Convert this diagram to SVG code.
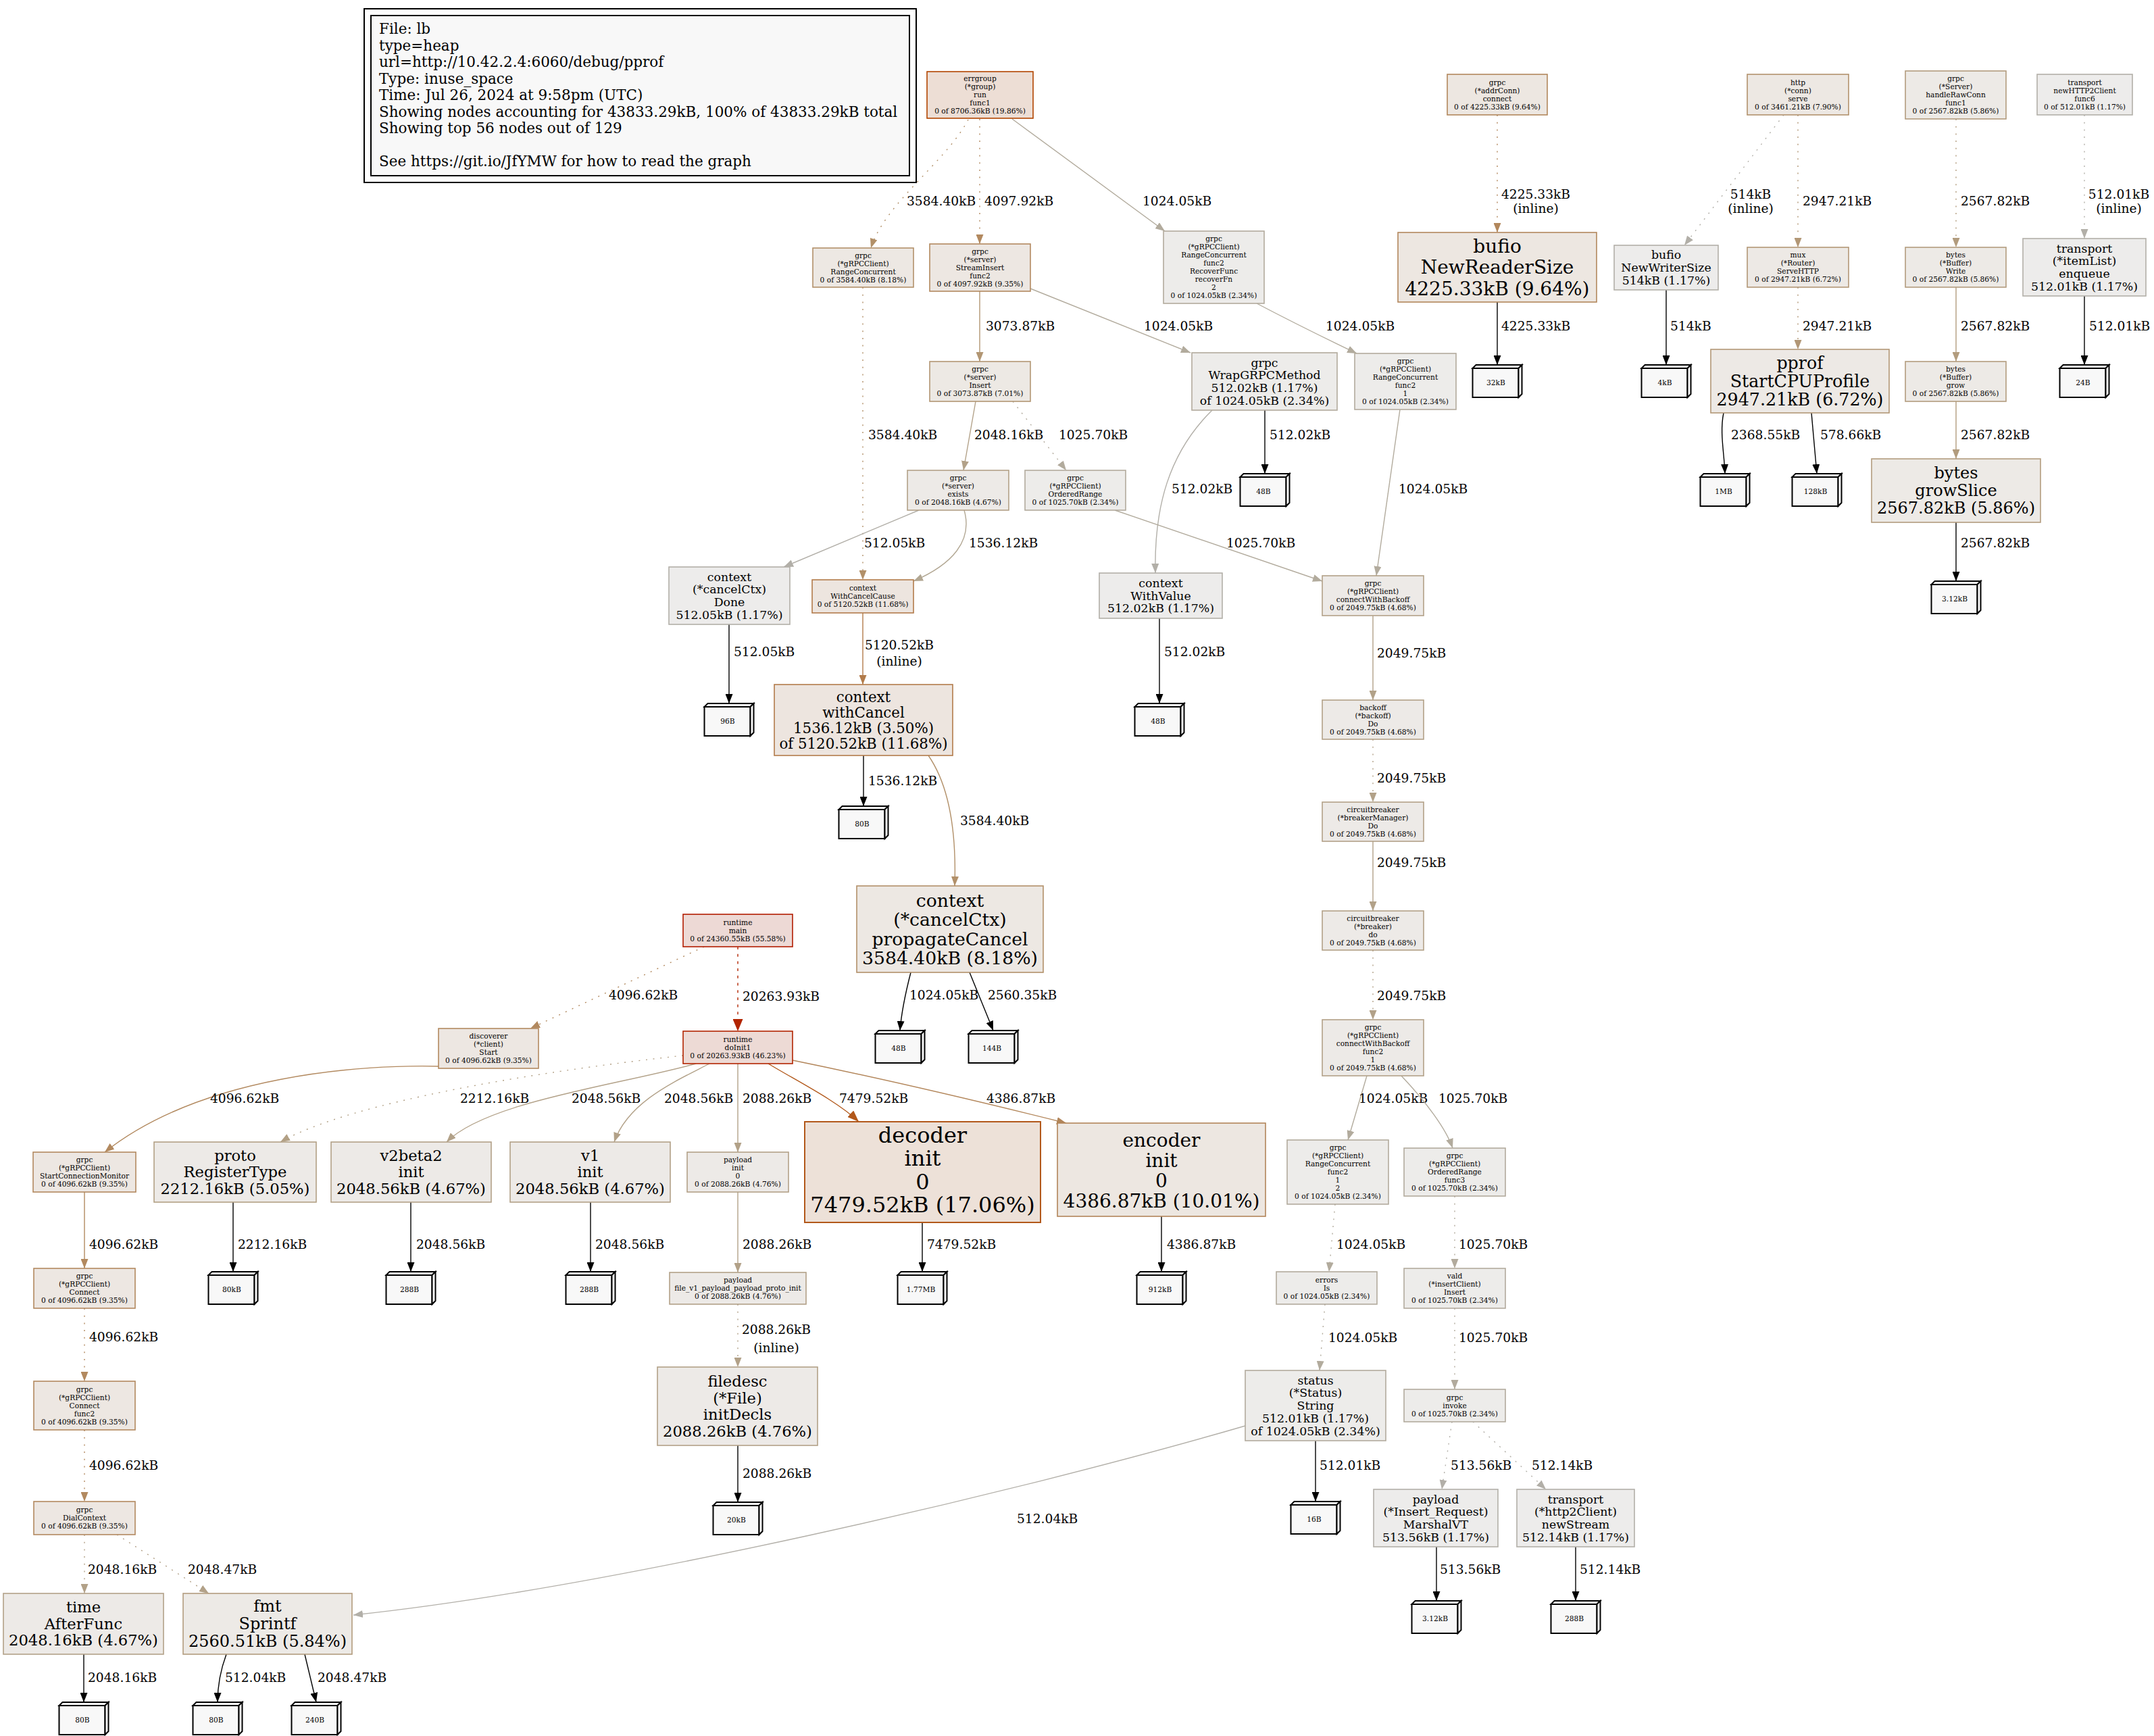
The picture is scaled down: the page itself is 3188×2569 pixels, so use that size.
<svg xmlns="http://www.w3.org/2000/svg" xmlns:xlink="http://www.w3.org/1999/xlink" width="3188" height="2569" viewBox="0 0 3188 2569">
<style>
text{font-family:"DejaVu Serif","Liberation Serif",serif;fill:#000}
.nt{text-anchor:middle}
.f8{font-size:10.67px}
.f13{font-size:17.33px}
.f16{font-size:21.33px}
.f17{font-size:22.67px}
.f18{font-size:24px}
.f19{font-size:25.33px}
.f20{font-size:26.67px}
.f21{font-size:28px}
.f24{font-size:32px}
.lbl{font-size:18.67px}
.lc{font-size:18.67px;text-anchor:middle}
.leg{font-size:21.5px}
.nd{stroke-width:1.6}
.e{fill:none;stroke-width:1.4}
.dot{stroke-dasharray:2 8.7}
.tag{fill:#f8f8f8;stroke:#000;stroke-width:2}
</style>
<defs>
<marker id="m-000" viewBox="0 0 14 11" refX="14" refY="5.5" markerWidth="14" markerHeight="11" markerUnits="userSpaceOnUse" orient="auto"><path d="M0,0L14,5.5L0,11z" fill="#000"/></marker>
<marker id="m-9069" viewBox="0 0 14 11" refX="14" refY="5.5" markerWidth="14" markerHeight="11" markerUnits="userSpaceOnUse" orient="auto"><path d="M0,0L14,5.5L0,11z" fill="#b29069"/></marker>
<marker id="m-895f" viewBox="0 0 14 11" refX="14" refY="5.5" markerWidth="14" markerHeight="11" markerUnits="userSpaceOnUse" orient="auto"><path d="M0,0L14,5.5L0,11z" fill="#b2895f"/></marker>
<marker id="m-ab9d" viewBox="0 0 14 11" refX="14" refY="5.5" markerWidth="14" markerHeight="11" markerUnits="userSpaceOnUse" orient="auto"><path d="M0,0L14,5.5L0,11z" fill="#b2ab9d"/></marker>
<marker id="m-875c" viewBox="0 0 14 11" refX="14" refY="5.5" markerWidth="14" markerHeight="11" markerUnits="userSpaceOnUse" orient="auto"><path d="M0,0L14,5.5L0,11z" fill="#b2875c"/></marker>
<marker id="m-afa8" viewBox="0 0 14 11" refX="14" refY="5.5" markerWidth="14" markerHeight="11" markerUnits="userSpaceOnUse" orient="auto"><path d="M0,0L14,5.5L0,11z" fill="#b2afa8"/></marker>
<marker id="m-9776" viewBox="0 0 14 11" refX="14" refY="5.5" markerWidth="14" markerHeight="11" markerUnits="userSpaceOnUse" orient="auto"><path d="M0,0L14,5.5L0,11z" fill="#b29776"/></marker>
<marker id="m-9c7e" viewBox="0 0 14 11" refX="14" refY="5.5" markerWidth="14" markerHeight="11" markerUnits="userSpaceOnUse" orient="auto"><path d="M0,0L14,5.5L0,11z" fill="#b29c7e"/></marker>
<marker id="m-9673" viewBox="0 0 14 11" refX="14" refY="5.5" markerWidth="14" markerHeight="11" markerUnits="userSpaceOnUse" orient="auto"><path d="M0,0L14,5.5L0,11z" fill="#b29673"/></marker>
<marker id="m-a188" viewBox="0 0 14 11" refX="14" refY="5.5" markerWidth="14" markerHeight="11" markerUnits="userSpaceOnUse" orient="auto"><path d="M0,0L14,5.5L0,11z" fill="#b2a188"/></marker>
<marker id="m-a793" viewBox="0 0 14 11" refX="14" refY="5.5" markerWidth="14" markerHeight="11" markerUnits="userSpaceOnUse" orient="auto"><path d="M0,0L14,5.5L0,11z" fill="#b2a793"/></marker>
<marker id="m-7b4a" viewBox="0 0 14 11" refX="14" refY="5.5" markerWidth="14" markerHeight="11" markerUnits="userSpaceOnUse" orient="auto"><path d="M0,0L14,5.5L0,11z" fill="#b27b4a"/></marker>
<marker id="m-8559" viewBox="0 0 14 11" refX="14" refY="5.5" markerWidth="14" markerHeight="11" markerUnits="userSpaceOnUse" orient="auto"><path d="M0,0L14,5.5L0,11z" fill="#b28559"/></marker>
<marker id="m-a085" viewBox="0 0 14 11" refX="14" refY="5.5" markerWidth="14" markerHeight="11" markerUnits="userSpaceOnUse" orient="auto"><path d="M0,0L14,5.5L0,11z" fill="#b2a085"/></marker>
<marker id="m-581a" viewBox="0 0 17 13" refX="17" refY="6.5" markerWidth="17" markerHeight="13" markerUnits="userSpaceOnUse" orient="auto"><path d="M0,0L17,6.5L0,13z" fill="#b2581a"/></marker>
<marker id="m-2400" viewBox="0 0 18 15" refX="18" refY="7.5" markerWidth="18" markerHeight="15" markerUnits="userSpaceOnUse" orient="auto"><path d="M0,0L18,7.5L0,15z" fill="#b22400"/></marker>
<g id="box3d"><rect class="tag" x="0" y="5" width="68" height="43"/><polygon class="tag" points="0,5 5,0 73,0 68,5"/><polygon class="tag" points="68,5 73,0 73,43 68,48"/></g>
</defs>
<rect width="3188" height="2569" fill="#fff"/>

<g id="legend">
<rect x="539" y="13" width="817" height="257" fill="#fff" stroke="#000" stroke-width="2"/>
<rect x="549" y="23" width="797" height="237" fill="#f8f8f8" stroke="#000" stroke-width="2"/>
<text class="leg"><tspan x="561" y="50">File: lb</tspan><tspan x="561" y="74.5">type=heap</tspan><tspan x="561" y="99">url=http://10.42.2.4:6060/debug/pprof</tspan><tspan x="561" y="123.5">Type: inuse_space</tspan><tspan x="561" y="148">Time: Jul 26, 2024 at 9:58pm (UTC)</tspan><tspan x="561" y="172.5">Showing nodes accounting for 43833.29kB, 100% of 43833.29kB total</tspan><tspan x="561" y="197">Showing top 56 nodes out of 129</tspan><tspan x="561" y="246">See https://git.io/JfYMW for how to read the graph</tspan></text>
</g>

<g id="edges">
<g id="e1"><path class="e dot" d="M1433,177 C1400,240 1310,300 1289,367" stroke="#b29069" marker-end="url(#m-9069)"/><text class="lbl" x="1342" y="303.5">3584.40kB</text></g>
<g id="e2"><path class="e dot" d="M1450,176 L1450,361" stroke="#b2895f" marker-end="url(#m-895f)"/><text class="lbl" x="1457" y="303.5">4097.92kB</text></g>
<g id="e3"><path class="e" d="M1498,176 L1724,342" stroke="#b2ab9d" marker-end="url(#m-ab9d)"/><text class="lbl" x="1691" y="303.5">1024.05kB</text></g>
<g id="e4"><path class="e dot" d="M2216,170 L2216,344" stroke="#b2875c" marker-end="url(#m-875c)"/><text class="lc" x="2273" y="293.5">4225.33kB</text><text class="lc" x="2273" y="314.5">(inline)</text></g>
<g id="e5"><path class="e dot" d="M2640,170 L2493,363" stroke="#b2afa8" marker-end="url(#m-afa8)"/><text class="lc" x="2591" y="293.5">514kB</text><text class="lc" x="2591" y="314.5">(inline)</text></g>
<g id="e6"><path class="e dot" d="M2661,170 L2661,366" stroke="#b29776" marker-end="url(#m-9776)"/><text class="lbl" x="2668" y="303.5">2947.21kB</text></g>
<g id="e7"><path class="e dot" d="M2895,176 L2895,366" stroke="#b29c7e" marker-end="url(#m-9c7e)"/><text class="lbl" x="2902" y="303.5">2567.82kB</text></g>
<g id="e8"><path class="e dot" d="M3085,170 L3085,353" stroke="#b2afa8" marker-end="url(#m-afa8)"/><text class="lc" x="3136" y="293.5">512.01kB</text><text class="lc" x="3136" y="314.5">(inline)</text></g>
<g id="e9"><path class="e" d="M1450,431 L1450,535" stroke="#b29673" marker-end="url(#m-9673)"/><text class="lbl" x="1459" y="488.5">3073.87kB</text></g>
<g id="e10"><path class="e" d="M1525,427 L1762,522" stroke="#b2ab9d" marker-end="url(#m-ab9d)"/><text class="lbl" x="1693" y="488.5">1024.05kB</text></g>
<g id="e11"><path class="e" d="M1860,449 C1900,470 1960,500 2008,523" stroke="#b2ab9d" marker-end="url(#m-ab9d)"/><text class="lbl" x="1962" y="488.5">1024.05kB</text></g>
<g id="e12"><path class="e" d="M2216,447 L2216,540" stroke="#000" marker-end="url(#m-000)"/><text class="lbl" x="2222" y="488.5">4225.33kB</text></g>
<g id="e13"><path class="e" d="M2466,429 L2466,540" stroke="#000" marker-end="url(#m-000)"/><text class="lbl" x="2472" y="488.5">514kB</text></g>
<g id="e14"><path class="e dot" d="M2661,425 L2661,517" stroke="#b29776" marker-end="url(#m-9776)"/><text class="lbl" x="2668" y="488.5">2947.21kB</text></g>
<g id="e15"><path class="e" d="M2895,425 L2895,535" stroke="#b29c7e" marker-end="url(#m-9c7e)"/><text class="lbl" x="2902" y="488.5">2567.82kB</text></g>
<g id="e16"><path class="e" d="M3085,438 L3085,540" stroke="#000" marker-end="url(#m-000)"/><text class="lbl" x="3092" y="488.5">512.01kB</text></g>
<g id="e17"><path class="e dot" d="M1277,425 L1277,858" stroke="#b29069" marker-end="url(#m-9069)"/><text class="lbl" x="1285" y="649.5">3584.40kB</text></g>
<g id="e18"><path class="e" d="M1444,594 L1426,696" stroke="#b2a188" marker-end="url(#m-a188)"/><text class="lbl" x="1442" y="650">2048.16kB</text></g>
<g id="e19"><path class="e dot" d="M1499,594 L1578,696" stroke="#b2ab9d" marker-end="url(#m-ab9d)"/><text class="lbl" x="1567" y="650">1025.70kB</text></g>
<g id="e20"><path class="e" d="M1872,607 L1872,701" stroke="#000" marker-end="url(#m-000)"/><text class="lbl" x="1879" y="650">512.02kB</text></g>
<g id="e21"><path class="e" d="M2072,606 L2037,852" stroke="#b2ab9d" marker-end="url(#m-ab9d)"/><text class="lbl" x="2070" y="729.5">1024.05kB</text></g>
<g id="e22"><path class="e" d="M2551,611 C2545,640 2552,670 2553,701" stroke="#000" marker-end="url(#m-000)"/><text class="lbl" x="2562" y="650">2368.55kB</text></g>
<g id="e23"><path class="e" d="M2681,611 L2689,701" stroke="#000" marker-end="url(#m-000)"/><text class="lbl" x="2694" y="650">578.66kB</text></g>
<g id="e24"><path class="e" d="M2895,594 L2895,679" stroke="#b29c7e" marker-end="url(#m-9c7e)"/><text class="lbl" x="2902" y="650">2567.82kB</text></g>
<g id="e25"><path class="e" d="M1794,607 C1730,670 1708,750 1710,848" stroke="#b2afa8" marker-end="url(#m-afa8)"/><text class="lbl" x="1734" y="729.5">512.02kB</text></g>
<g id="e26"><path class="e" d="M1360,755 L1160,839" stroke="#b2afa8" marker-end="url(#m-afa8)"/><text class="lbl" x="1279" y="809.5">512.05kB</text></g>
<g id="e27"><path class="e" d="M1427,755 C1440,800 1410,835 1352,860" stroke="#b2a793" marker-end="url(#m-a793)"/><text class="lbl" x="1434" y="809.5">1536.12kB</text></g>
<g id="e28"><path class="e" d="M1650,755 L1957,860" stroke="#b2ab9d" marker-end="url(#m-ab9d)"/><text class="lbl" x="1815" y="809.5">1025.70kB</text></g>
<g id="e29"><path class="e" d="M2895,773 L2895,860" stroke="#000" marker-end="url(#m-000)"/><text class="lbl" x="2902" y="809.5">2567.82kB</text></g>
<g id="e30"><path class="e" d="M1079,924 L1079,1041" stroke="#000" marker-end="url(#m-000)"/><text class="lbl" x="1086" y="970.5">512.05kB</text></g>
<g id="e31"><path class="e" d="M1277,907 L1277,1013" stroke="#b27b4a" stroke-width="1.8" marker-end="url(#m-7b4a)"/><text class="lc" x="1331" y="960.5">5120.52kB</text><text class="lc" x="1331" y="984.5">(inline)</text></g>
<g id="e32"><path class="e" d="M1716,915 L1716,1041" stroke="#000" marker-end="url(#m-000)"/><text class="lbl" x="1723" y="970.5">512.02kB</text></g>
<g id="e33"><path class="e" d="M2032,911 L2032,1036" stroke="#b2a188" marker-end="url(#m-a188)"/><text class="lbl" x="2038" y="972.5">2049.75kB</text></g>
<g id="e34"><path class="e" d="M1278,1118 L1278,1193" stroke="#000" marker-end="url(#m-000)"/><text class="lbl" x="1285" y="1161.5">1536.12kB</text></g>
<g id="e35"><path class="e" d="M1374,1118 C1410,1170 1415,1250 1413,1311" stroke="#b29069" marker-end="url(#m-9069)"/><text class="lbl" x="1421" y="1220.5">3584.40kB</text></g>
<g id="e36"><path class="e dot" d="M2032,1094 L2032,1187" stroke="#b2a188" marker-end="url(#m-a188)"/><text class="lbl" x="2038" y="1157.5">2049.75kB</text></g>
<g id="e37"><path class="e" d="M2032,1245 L2032,1348" stroke="#b2a188" marker-end="url(#m-a188)"/><text class="lbl" x="2038" y="1282.5">2049.75kB</text></g>
<g id="e38"><path class="e dot" d="M2032,1406 L2032,1509" stroke="#b2a188" marker-end="url(#m-a188)"/><text class="lbl" x="2038" y="1479.5">2049.75kB</text></g>
<g id="e39"><path class="e" d="M1348,1439 C1340,1470 1334,1500 1332,1525" stroke="#000" marker-end="url(#m-000)"/><text class="lbl" x="1346" y="1478.5">1024.05kB</text></g>
<g id="e40"><path class="e" d="M1435,1439 L1470,1525" stroke="#000" marker-end="url(#m-000)"/><text class="lbl" x="1462" y="1478.5">2560.35kB</text></g>
<g id="e41"><path class="e" d="M1092,1401 L1092,1526" stroke="#b22400" stroke-width="4.2" stroke-dasharray="4 6.7" marker-end="url(#m-2400)"/><text class="lbl" x="1099" y="1480.5">20263.93kB</text></g>
<g id="e42"><path class="e dot" d="M1042,1401 L785,1522" stroke="#b2895f" marker-end="url(#m-895f)"/><text class="lbl" x="901" y="1478.5">4096.62kB</text></g>
<g id="e43"><path class="e" d="M651,1578 C540,1575 300,1590 155,1705" stroke="#b2895f" marker-end="url(#m-895f)"/><text class="lbl" x="311" y="1631.5">4096.62kB</text></g>
<g id="e44"><path class="e dot" d="M1011,1562 C800,1585 520,1630 415,1690" stroke="#b2a085" marker-end="url(#m-a085)"/><text class="lbl" x="681" y="1631.5">2212.16kB</text></g>
<g id="e45"><path class="e" d="M1030,1574 C920,1605 720,1630 661,1690" stroke="#b2a188" marker-end="url(#m-a188)"/><text class="lbl" x="846" y="1631.5">2048.56kB</text></g>
<g id="e46"><path class="e" d="M1050,1574 C1000,1600 930,1630 909,1690" stroke="#b2a188" marker-end="url(#m-a188)"/><text class="lbl" x="983" y="1631.5">2048.56kB</text></g>
<g id="e47"><path class="e" d="M1092,1574 L1092,1705" stroke="#b2a188" marker-end="url(#m-a188)"/><text class="lbl" x="1099" y="1631.5">2088.26kB</text></g>
<g id="e48"><path class="e" d="M1137,1574 C1180,1600 1240,1630 1271,1660" stroke="#b2581a" stroke-width="2.2" marker-end="url(#m-581a)"/><text class="lbl" x="1242" y="1631.5">7479.52kB</text></g>
<g id="e49"><path class="e" d="M1173,1569 C1300,1595 1450,1630 1578,1662" stroke="#b28559" stroke-width="1.8" marker-end="url(#m-8559)"/><text class="lbl" x="1460" y="1631.5">4386.87kB</text></g>
<g id="e50"><path class="e" d="M2023,1592 L1995,1687" stroke="#b2ab9d" marker-end="url(#m-ab9d)"/><text class="lbl" x="2011" y="1631.5">1024.05kB</text></g>
<g id="e51"><path class="e" d="M2074,1592 C2110,1630 2140,1670 2150,1699" stroke="#b2ab9d" marker-end="url(#m-ab9d)"/><text class="lbl" x="2129" y="1631.5">1025.70kB</text></g>
<g id="e52"><path class="e" d="M345,1779 L345,1882" stroke="#000" marker-end="url(#m-000)"/><text class="lbl" x="352" y="1847.5">2212.16kB</text></g>
<g id="e53"><path class="e" d="M608,1779 L608,1882" stroke="#000" marker-end="url(#m-000)"/><text class="lbl" x="616" y="1847.5">2048.56kB</text></g>
<g id="e54"><path class="e" d="M874,1779 L874,1882" stroke="#000" marker-end="url(#m-000)"/><text class="lbl" x="881" y="1847.5">2048.56kB</text></g>
<g id="e55"><path class="e" d="M1092,1764 L1092,1883" stroke="#b2a188" marker-end="url(#m-a188)"/><text class="lbl" x="1099" y="1848">2088.26kB</text></g>
<g id="e56"><path class="e" d="M1365,1809 L1365,1882" stroke="#000" marker-end="url(#m-000)"/><text class="lbl" x="1372" y="1847.5">7479.52kB</text></g>
<g id="e57"><path class="e" d="M1719,1800 L1719,1882" stroke="#000" marker-end="url(#m-000)"/><text class="lbl" x="1727" y="1847.5">4386.87kB</text></g>
<g id="e58"><path class="e" d="M125,1764 L125,1877" stroke="#b2895f" marker-end="url(#m-895f)"/><text class="lbl" x="132" y="1847.5">4096.62kB</text></g>
<g id="e59"><path class="e dot" d="M1976,1782 L1967,1882" stroke="#b2ab9d" marker-end="url(#m-ab9d)"/><text class="lbl" x="1978" y="1847.5">1024.05kB</text></g>
<g id="e60"><path class="e dot" d="M2153,1770 L2153,1877" stroke="#b2ab9d" marker-end="url(#m-ab9d)"/><text class="lbl" x="2159" y="1847.5">1025.70kB</text></g>
<g id="e61"><path class="e dot" d="M125,1936 L125,2044" stroke="#b2895f" marker-end="url(#m-895f)"/><text class="lbl" x="132" y="1984.5">4096.62kB</text></g>
<g id="e62"><path class="e dot" d="M1092,1930 L1092,2023" stroke="#b2a188" marker-end="url(#m-a188)"/><text class="lc" x="1149" y="1973.5">2088.26kB</text><text class="lc" x="1149" y="2000.5">(inline)</text></g>
<g id="e63"><path class="e dot" d="M1961,1930 L1953,2028" stroke="#b2ab9d" marker-end="url(#m-ab9d)"/><text class="lbl" x="1966" y="1985.5">1024.05kB</text></g>
<g id="e64"><path class="e dot" d="M2153,1936 L2153,2056" stroke="#b2ab9d" marker-end="url(#m-ab9d)"/><text class="lbl" x="2159" y="1985.5">1025.70kB</text></g>
<g id="e65"><path class="e dot" d="M125,2116 L125,2222" stroke="#b2895f" marker-end="url(#m-895f)"/><text class="lbl" x="132" y="2174.5">4096.62kB</text></g>
<g id="e66"><path class="e" d="M1092,2139 L1092,2223" stroke="#000" marker-end="url(#m-000)"/><text class="lbl" x="1099" y="2187">2088.26kB</text></g>
<g id="e67"><path class="e" d="M1947,2132 L1947,2222" stroke="#000" marker-end="url(#m-000)"/><text class="lbl" x="1953" y="2174.5">512.01kB</text></g>
<g id="e68"><path class="e dot" d="M2149,2104 L2134,2204" stroke="#b2afa8" marker-end="url(#m-afa8)"/><text class="lbl" x="2147" y="2174.5">513.56kB</text></g>
<g id="e69"><path class="e dot" d="M2180,2104 L2288,2204" stroke="#b2afa8" marker-end="url(#m-afa8)"/><text class="lbl" x="2267" y="2174.5">512.14kB</text></g>
<g id="e70"><path class="e dot" d="M125,2271 L125,2358" stroke="#b2a188" marker-end="url(#m-a188)"/><text class="lbl" x="130" y="2328.5">2048.16kB</text></g>
<g id="e71"><path class="e dot" d="M173,2271 L309,2358" stroke="#b2a188" marker-end="url(#m-a188)"/><text class="lbl" x="278" y="2328.5">2048.47kB</text></g>
<g id="e72"><path class="e" d="M1843,2110 C1500,2210 900,2350 523,2390" stroke="#b2afa8" marker-end="url(#m-afa8)"/><text class="lbl" x="1505" y="2253.5">512.04kB</text></g>
<g id="e73"><path class="e" d="M2126,2289 L2126,2369" stroke="#000" marker-end="url(#m-000)"/><text class="lbl" x="2131" y="2328.5">513.56kB</text></g>
<g id="e74"><path class="e" d="M2332,2289 L2332,2369" stroke="#000" marker-end="url(#m-000)"/><text class="lbl" x="2338" y="2328.5">512.14kB</text></g>
<g id="e75"><path class="e" d="M124,2448 L124,2519" stroke="#000" marker-end="url(#m-000)"/><text class="lbl" x="130" y="2488.5">2048.16kB</text></g>
<g id="e76"><path class="e" d="M335,2448 C325,2475 322,2500 322,2519" stroke="#000" marker-end="url(#m-000)"/><text class="lbl" x="333" y="2488.5">512.04kB</text></g>
<g id="e77"><path class="e" d="M451,2448 L468,2519" stroke="#000" marker-end="url(#m-000)"/><text class="lbl" x="470" y="2488.5">2048.47kB</text></g>
</g>

<g id="nodes">
<g id="n1"><rect class="nd" x="1372" y="106" width="157" height="69" fill="#edded5" stroke="#b24501"/><text class="nt f8"><tspan x="1450.5" y="120.2">errgroup</tspan><tspan x="1450.5" y="132.2">(*group)</tspan><tspan x="1450.5" y="144.2">run</tspan><tspan x="1450.5" y="156.2">func1</tspan><tspan x="1450.5" y="168.2">0 of 8706.36kB (19.86%)</tspan></text></g>
<g id="n2"><rect class="nd" x="1203" y="367" width="149" height="58" fill="#ede8e3" stroke="#b29069"/><text class="nt f8"><tspan x="1277.5" y="381.7">grpc</tspan><tspan x="1277.5" y="393.7">(*gRPCClient)</tspan><tspan x="1277.5" y="405.7">RangeConcurrent</tspan><tspan x="1277.5" y="417.7">0 of 3584.40kB (8.18%)</tspan></text></g>
<g id="n3"><rect class="nd" x="1376" y="361" width="149" height="70" fill="#ede7e2" stroke="#b2895f"/><text class="nt f8"><tspan x="1450.5" y="375.7">grpc</tspan><tspan x="1450.5" y="387.7">(*server)</tspan><tspan x="1450.5" y="399.7">StreamInsert</tspan><tspan x="1450.5" y="411.7">func2</tspan><tspan x="1450.5" y="423.7">0 of 4097.92kB (9.35%)</tspan></text></g>
<g id="n4"><rect class="nd" x="1722" y="342" width="149" height="107" fill="#edecea" stroke="#b2ab9d"/><text class="nt f8"><tspan x="1796.5" y="357.2">grpc</tspan><tspan x="1796.5" y="369.2">(*gRPCClient)</tspan><tspan x="1796.5" y="381.2">RangeConcurrent</tspan><tspan x="1796.5" y="393.2">func2</tspan><tspan x="1796.5" y="405.2">RecoverFunc</tspan><tspan x="1796.5" y="417.2">recoverFn</tspan><tspan x="1796.5" y="429.2">2</tspan><tspan x="1796.5" y="441.2">0 of 1024.05kB (2.34%)</tspan></text></g>
<g id="n5"><rect class="nd" x="2142" y="110" width="148" height="60" fill="#ede7e1" stroke="#b2875c"/><text class="nt f8"><tspan x="2216" y="125.7">grpc</tspan><tspan x="2216" y="137.7">(*addrConn)</tspan><tspan x="2216" y="149.7">connect</tspan><tspan x="2216" y="161.7">0 of 4225.33kB (9.64%)</tspan></text></g>
<g id="n6"><rect class="nd" x="2586" y="110" width="150" height="60" fill="#ede8e3" stroke="#b2916c"/><text class="nt f8"><tspan x="2661" y="125.7">http</tspan><tspan x="2661" y="137.7">(*conn)</tspan><tspan x="2661" y="149.7">serve</tspan><tspan x="2661" y="161.7">0 of 3461.21kB (7.90%)</tspan></text></g>
<g id="n7"><rect class="nd" x="2820" y="105" width="149" height="71" fill="#edeae6" stroke="#b29c7e"/><text class="nt f8"><tspan x="2894.5" y="120.2">grpc</tspan><tspan x="2894.5" y="132.2">(*Server)</tspan><tspan x="2894.5" y="144.2">handleRawConn</tspan><tspan x="2894.5" y="156.2">func1</tspan><tspan x="2894.5" y="168.2">0 of 2567.82kB (5.86%)</tspan></text></g>
<g id="n8"><rect class="nd" x="3015" y="110" width="141" height="60" fill="#edeceb" stroke="#b2afa8"/><text class="nt f8"><tspan x="3085.5" y="125.7">transport</tspan><tspan x="3085.5" y="137.7">newHTTP2Client</tspan><tspan x="3085.5" y="149.7">func6</tspan><tspan x="3085.5" y="161.7">0 of 512.01kB (1.17%)</tspan></text></g>
<g id="n9"><rect class="nd" x="2069" y="344" width="294" height="103" fill="#ede7e1" stroke="#b2875c"/><text class="nt f21"><tspan x="2216" y="373.8">bufio</tspan><tspan x="2216" y="405.3">NewReaderSize</tspan><tspan x="2216" y="436.8">4225.33kB (9.64%)</tspan></text></g>
<g id="n10"><rect class="nd" x="2389" y="363" width="154" height="66" fill="#edeceb" stroke="#b2afa8"/><text class="nt f13"><tspan x="2466" y="383.4">bufio</tspan><tspan x="2466" y="402.1">NewWriterSize</tspan><tspan x="2466" y="420.8">514kB (1.17%)</tspan></text></g>
<g id="n11"><rect class="nd" x="2586" y="366" width="150" height="59" fill="#ede9e5" stroke="#b29776"/><text class="nt f8"><tspan x="2661" y="381.2">mux</tspan><tspan x="2661" y="393.2">(*Router)</tspan><tspan x="2661" y="405.2">ServeHTTP</tspan><tspan x="2661" y="417.2">0 of 2947.21kB (6.72%)</tspan></text></g>
<g id="n12"><rect class="nd" x="2820" y="366" width="149" height="59" fill="#edeae6" stroke="#b29c7e"/><text class="nt f8"><tspan x="2894.5" y="381.2">bytes</tspan><tspan x="2894.5" y="393.2">(*Buffer)</tspan><tspan x="2894.5" y="405.2">Write</tspan><tspan x="2894.5" y="417.2">0 of 2567.82kB (5.86%)</tspan></text></g>
<g id="n13"><rect class="nd" x="2994" y="353" width="182" height="85" fill="#edeceb" stroke="#b2afa8"/><text class="nt f13"><tspan x="3085" y="373.6">transport</tspan><tspan x="3085" y="392.3">(*itemList)</tspan><tspan x="3085" y="411">enqueue</tspan><tspan x="3085" y="429.7">512.01kB (1.17%)</tspan></text></g>
<g id="n14"><rect class="nd" x="1376" y="535" width="149" height="59" fill="#ede9e4" stroke="#b29673"/><text class="nt f8"><tspan x="1450.5" y="550.2">grpc</tspan><tspan x="1450.5" y="562.2">(*server)</tspan><tspan x="1450.5" y="574.2">Insert</tspan><tspan x="1450.5" y="586.2">0 of 3073.87kB (7.01%)</tspan></text></g>
<g id="n15"><rect class="nd" x="1764" y="522" width="215" height="85" fill="#edecea" stroke="#b2ab9d"/><text class="nt f13"><tspan x="1871.5" y="542.6">grpc</tspan><tspan x="1871.5" y="561.3">WrapGRPCMethod</tspan><tspan x="1871.5" y="580">512.02kB (1.17%)</tspan><tspan x="1871.5" y="598.7">of 1024.05kB (2.34%)</tspan></text></g>
<g id="n16"><rect class="nd" x="2005" y="523" width="150" height="83" fill="#edecea" stroke="#b2ab9d"/><text class="nt f8"><tspan x="2080" y="538.2">grpc</tspan><tspan x="2080" y="550.2">(*gRPCClient)</tspan><tspan x="2080" y="562.2">RangeConcurrent</tspan><tspan x="2080" y="574.2">func2</tspan><tspan x="2080" y="586.2">1</tspan><tspan x="2080" y="598.2">0 of 1024.05kB (2.34%)</tspan></text></g>
<g id="n17"><rect class="nd" x="2532" y="517" width="264" height="94" fill="#ede9e5" stroke="#b29776"/><text class="nt f19"><tspan x="2664" y="545.9">pprof</tspan><tspan x="2664" y="572.9">StartCPUProfile</tspan><tspan x="2664" y="599.9">2947.21kB (6.72%)</tspan></text></g>
<g id="n18"><rect class="nd" x="2820" y="535" width="149" height="59" fill="#edeae6" stroke="#b29c7e"/><text class="nt f8"><tspan x="2894.5" y="550.2">bytes</tspan><tspan x="2894.5" y="562.2">(*Buffer)</tspan><tspan x="2894.5" y="574.2">grow</tspan><tspan x="2894.5" y="586.2">0 of 2567.82kB (5.86%)</tspan></text></g>
<g id="n19"><rect class="nd" x="1343" y="696" width="150" height="59" fill="#edeae7" stroke="#b2a188"/><text class="nt f8"><tspan x="1418" y="711.2">grpc</tspan><tspan x="1418" y="723.2">(*server)</tspan><tspan x="1418" y="735.2">exists</tspan><tspan x="1418" y="747.2">0 of 2048.16kB (4.67%)</tspan></text></g>
<g id="n20"><rect class="nd" x="1517" y="696" width="149" height="59" fill="#edecea" stroke="#b2ab9d"/><text class="nt f8"><tspan x="1591.5" y="711.2">grpc</tspan><tspan x="1591.5" y="723.2">(*gRPCClient)</tspan><tspan x="1591.5" y="735.2">OrderedRange</tspan><tspan x="1591.5" y="747.2">0 of 1025.70kB (2.34%)</tspan></text></g>
<g id="n21"><rect class="nd" x="2770" y="679" width="250" height="94" fill="#edeae6" stroke="#b29c7e"/><text class="nt f18"><tspan x="2895" y="708.4">bytes</tspan><tspan x="2895" y="734.4">growSlice</tspan><tspan x="2895" y="760.4">2567.82kB (5.86%)</tspan></text></g>
<g id="n22"><rect class="nd" x="990" y="839" width="179" height="85" fill="#edeceb" stroke="#b2afa8"/><text class="nt f13"><tspan x="1079.5" y="859.6">context</tspan><tspan x="1079.5" y="878.3">(*cancelCtx)</tspan><tspan x="1079.5" y="897">Done</tspan><tspan x="1079.5" y="915.7">512.05kB (1.17%)</tspan></text></g>
<g id="n23"><rect class="nd" x="1202" y="858" width="150" height="49" fill="#ede5df" stroke="#b27b4a"/><text class="nt f8"><tspan x="1277" y="874.2">context</tspan><tspan x="1277" y="886.2">WithCancelCause</tspan><tspan x="1277" y="898.2">0 of 5120.52kB (11.68%)</tspan></text></g>
<g id="n24"><rect class="nd" x="1627" y="848" width="182" height="67" fill="#edeceb" stroke="#b2afa8"/><text class="nt f13"><tspan x="1718" y="868.9">context</tspan><tspan x="1718" y="887.6">WithValue</tspan><tspan x="1718" y="906.3">512.02kB (1.17%)</tspan></text></g>
<g id="n25"><rect class="nd" x="1957" y="852" width="150" height="59" fill="#edeae7" stroke="#b2a188"/><text class="nt f8"><tspan x="2032" y="867.2">grpc</tspan><tspan x="2032" y="879.2">(*gRPCClient)</tspan><tspan x="2032" y="891.2">connectWithBackoff</tspan><tspan x="2032" y="903.2">0 of 2049.75kB (4.68%)</tspan></text></g>
<g id="n26"><rect class="nd" x="1146" y="1013" width="264" height="105" fill="#ede5df" stroke="#b27b4a"/><text class="nt f16"><tspan x="1278" y="1038.5">context</tspan><tspan x="1278" y="1061.5">withCancel</tspan><tspan x="1278" y="1084.5">1536.12kB (3.50%)</tspan><tspan x="1278" y="1107.5">of 5120.52kB (11.68%)</tspan></text></g>
<g id="n27"><rect class="nd" x="1957" y="1036" width="150" height="58" fill="#edeae7" stroke="#b2a188"/><text class="nt f8"><tspan x="2032" y="1050.7">backoff</tspan><tspan x="2032" y="1062.7">(*backoff)</tspan><tspan x="2032" y="1074.7">Do</tspan><tspan x="2032" y="1086.7">0 of 2049.75kB (4.68%)</tspan></text></g>
<g id="n28"><rect class="nd" x="1957" y="1187" width="150" height="58" fill="#edeae7" stroke="#b2a188"/><text class="nt f8"><tspan x="2032" y="1201.7">circuitbreaker</tspan><tspan x="2032" y="1213.7">(*breakerManager)</tspan><tspan x="2032" y="1225.7">Do</tspan><tspan x="2032" y="1237.7">0 of 2049.75kB (4.68%)</tspan></text></g>
<g id="n29"><rect class="nd" x="1268" y="1311" width="276" height="128" fill="#ede8e3" stroke="#b29069"/><text class="nt f20"><tspan x="1406" y="1341.6">context</tspan><tspan x="1406" y="1370.1">(*cancelCtx)</tspan><tspan x="1406" y="1398.6">propagateCancel</tspan><tspan x="1406" y="1427.1">3584.40kB (8.18%)</tspan></text></g>
<g id="n30"><rect class="nd" x="1957" y="1348" width="150" height="58" fill="#edeae7" stroke="#b2a188"/><text class="nt f8"><tspan x="2032" y="1362.7">circuitbreaker</tspan><tspan x="2032" y="1374.7">(*breaker)</tspan><tspan x="2032" y="1386.7">do</tspan><tspan x="2032" y="1398.7">0 of 2049.75kB (4.68%)</tspan></text></g>
<g id="n31"><rect class="nd" x="1011" y="1353" width="162" height="48" fill="#edd9d5" stroke="#b21c00"/><text class="nt f8"><tspan x="1092" y="1368.7">runtime</tspan><tspan x="1092" y="1380.7">main</tspan><tspan x="1092" y="1392.7">0 of 24360.55kB (55.58%)</tspan></text></g>
<g id="n32"><rect class="nd" x="1011" y="1526" width="162" height="48" fill="#eddad5" stroke="#b22400"/><text class="nt f8"><tspan x="1092" y="1541.7">runtime</tspan><tspan x="1092" y="1553.7">doInit1</tspan><tspan x="1092" y="1565.7">0 of 20263.93kB (46.23%)</tspan></text></g>
<g id="n33"><rect class="nd" x="649" y="1522" width="148" height="59" fill="#ede7e2" stroke="#b2895f"/><text class="nt f8"><tspan x="723" y="1537.2">discoverer</tspan><tspan x="723" y="1549.2">(*client)</tspan><tspan x="723" y="1561.2">Start</tspan><tspan x="723" y="1573.2">0 of 4096.62kB (9.35%)</tspan></text></g>
<g id="n34"><rect class="nd" x="1957" y="1509" width="150" height="83" fill="#edeae7" stroke="#b2a188"/><text class="nt f8"><tspan x="2032" y="1524.2">grpc</tspan><tspan x="2032" y="1536.2">(*gRPCClient)</tspan><tspan x="2032" y="1548.2">connectWithBackoff</tspan><tspan x="2032" y="1560.2">func2</tspan><tspan x="2032" y="1572.2">1</tspan><tspan x="2032" y="1584.2">0 of 2049.75kB (4.68%)</tspan></text></g>
<g id="n35"><rect class="nd" x="49" y="1705" width="152" height="59" fill="#ede7e2" stroke="#b2895f"/><text class="nt f8"><tspan x="125" y="1720.2">grpc</tspan><tspan x="125" y="1732.2">(*gRPCClient)</tspan><tspan x="125" y="1744.2">StartConnectionMonitor</tspan><tspan x="125" y="1756.2">0 of 4096.62kB (9.35%)</tspan></text></g>
<g id="n36"><rect class="nd" x="228" y="1690" width="240" height="89" fill="#edeae7" stroke="#b2a085"/><text class="nt f17"><tspan x="348" y="1717.9">proto</tspan><tspan x="348" y="1742.4">RegisterType</tspan><tspan x="348" y="1766.9">2212.16kB (5.05%)</tspan></text></g>
<g id="n37"><rect class="nd" x="490" y="1690" width="237" height="89" fill="#edeae7" stroke="#b2a188"/><text class="nt f17"><tspan x="608.5" y="1717.9">v2beta2</tspan><tspan x="608.5" y="1742.4">init</tspan><tspan x="608.5" y="1766.9">2048.56kB (4.67%)</tspan></text></g>
<g id="n38"><rect class="nd" x="755" y="1690" width="237" height="89" fill="#edeae7" stroke="#b2a188"/><text class="nt f17"><tspan x="873.5" y="1717.9">v1</tspan><tspan x="873.5" y="1742.4">init</tspan><tspan x="873.5" y="1766.9">2048.56kB (4.67%)</tspan></text></g>
<g id="n39"><rect class="nd" x="1017" y="1705" width="150" height="59" fill="#edeae7" stroke="#b2a188"/><text class="nt f8"><tspan x="1092" y="1720.2">payload</tspan><tspan x="1092" y="1732.2">init</tspan><tspan x="1092" y="1744.2">0</tspan><tspan x="1092" y="1756.2">0 of 2088.26kB (4.76%)</tspan></text></g>
<g id="n40"><rect x="1191" y="1660" width="349" height="149" fill="#ede1d8" stroke="#b2581a" stroke-width="2"/><text class="nt f24"><tspan x="1365.5" y="1690.5">decoder</tspan><tspan x="1365.5" y="1725">init</tspan><tspan x="1365.5" y="1759.5">0</tspan><tspan x="1365.5" y="1794">7479.52kB (17.06%)</tspan></text></g>
<g id="n41"><rect class="nd" x="1565" y="1662" width="308" height="138" fill="#ede7e1" stroke="#b28559"/><text class="nt f21"><tspan x="1719" y="1696.8">encoder</tspan><tspan x="1719" y="1726.8">init</tspan><tspan x="1719" y="1756.8">0</tspan><tspan x="1719" y="1786.8">4386.87kB (10.01%)</tspan></text></g>
<g id="n42"><rect class="nd" x="1905" y="1687" width="150" height="95" fill="#edecea" stroke="#b2ab9d"/><text class="nt f8"><tspan x="1980" y="1702.2">grpc</tspan><tspan x="1980" y="1714.2">(*gRPCClient)</tspan><tspan x="1980" y="1726.2">RangeConcurrent</tspan><tspan x="1980" y="1738.2">func2</tspan><tspan x="1980" y="1750.2">1</tspan><tspan x="1980" y="1762.2">2</tspan><tspan x="1980" y="1774.2">0 of 1024.05kB (2.34%)</tspan></text></g>
<g id="n43"><rect class="nd" x="2078" y="1699" width="150" height="71" fill="#edecea" stroke="#b2ab9d"/><text class="nt f8"><tspan x="2153" y="1714.2">grpc</tspan><tspan x="2153" y="1726.2">(*gRPCClient)</tspan><tspan x="2153" y="1738.2">OrderedRange</tspan><tspan x="2153" y="1750.2">func3</tspan><tspan x="2153" y="1762.2">0 of 1025.70kB (2.34%)</tspan></text></g>
<g id="n44"><rect class="nd" x="50" y="1877" width="150" height="59" fill="#ede7e2" stroke="#b2895f"/><text class="nt f8"><tspan x="125" y="1892.2">grpc</tspan><tspan x="125" y="1904.2">(*gRPCClient)</tspan><tspan x="125" y="1916.2">Connect</tspan><tspan x="125" y="1928.2">0 of 4096.62kB (9.35%)</tspan></text></g>
<g id="n45"><rect class="nd" x="991" y="1883" width="202" height="47" fill="#edeae7" stroke="#b2a188"/><text class="nt f8"><tspan x="1092" y="1898.2">payload</tspan><tspan x="1092" y="1910.2">file_v1_payload_payload_proto_init</tspan><tspan x="1092" y="1922.2">0 of 2088.26kB (4.76%)</tspan></text></g>
<g id="n46"><rect class="nd" x="1889" y="1882" width="149" height="48" fill="#edecea" stroke="#b2ab9d"/><text class="nt f8"><tspan x="1963.5" y="1897.7">errors</tspan><tspan x="1963.5" y="1909.7">Is</tspan><tspan x="1963.5" y="1921.7">0 of 1024.05kB (2.34%)</tspan></text></g>
<g id="n47"><rect class="nd" x="2078" y="1877" width="150" height="59" fill="#edecea" stroke="#b2ab9d"/><text class="nt f8"><tspan x="2153" y="1892.2">vald</tspan><tspan x="2153" y="1904.2">(*insertClient)</tspan><tspan x="2153" y="1916.2">Insert</tspan><tspan x="2153" y="1928.2">0 of 1025.70kB (2.34%)</tspan></text></g>
<g id="n48"><rect class="nd" x="973" y="2023" width="237" height="116" fill="#edeae7" stroke="#b2a188"/><text class="nt f17"><tspan x="1091.5" y="2052.2">filedesc</tspan><tspan x="1091.5" y="2076.7">(*File)</tspan><tspan x="1091.5" y="2101.2">initDecls</tspan><tspan x="1091.5" y="2125.7">2088.26kB (4.76%)</tspan></text></g>
<g id="n49"><rect class="nd" x="1843" y="2028" width="208" height="104" fill="#edecea" stroke="#b2ab9d"/><text class="nt f13"><tspan x="1947" y="2048.5">status</tspan><tspan x="1947" y="2067.3">(*Status)</tspan><tspan x="1947" y="2086.1">String</tspan><tspan x="1947" y="2104.9">512.01kB (1.17%)</tspan><tspan x="1947" y="2123.7">of 1024.05kB (2.34%)</tspan></text></g>
<g id="n50"><rect class="nd" x="50" y="2044" width="150" height="72" fill="#ede7e2" stroke="#b2895f"/><text class="nt f8"><tspan x="125" y="2059.7">grpc</tspan><tspan x="125" y="2071.7">(*gRPCClient)</tspan><tspan x="125" y="2083.7">Connect</tspan><tspan x="125" y="2095.7">func2</tspan><tspan x="125" y="2107.7">0 of 4096.62kB (9.35%)</tspan></text></g>
<g id="n51"><rect class="nd" x="2078" y="2056" width="150" height="48" fill="#edecea" stroke="#b2ab9d"/><text class="nt f8"><tspan x="2153" y="2071.7">grpc</tspan><tspan x="2153" y="2083.7">invoke</tspan><tspan x="2153" y="2095.7">0 of 1025.70kB (2.34%)</tspan></text></g>
<g id="n52"><rect class="nd" x="50" y="2222" width="150" height="49" fill="#ede7e2" stroke="#b2895f"/><text class="nt f8"><tspan x="125" y="2238.2">grpc</tspan><tspan x="125" y="2250.2">DialContext</tspan><tspan x="125" y="2262.2">0 of 4096.62kB (9.35%)</tspan></text></g>
<g id="n53"><rect class="nd" x="2033" y="2204" width="184" height="85" fill="#edeceb" stroke="#b2afa8"/><text class="nt f13"><tspan x="2125" y="2224.6">payload</tspan><tspan x="2125" y="2243.3">(*Insert_Request)</tspan><tspan x="2125" y="2262">MarshalVT</tspan><tspan x="2125" y="2280.7">513.56kB (1.17%)</tspan></text></g>
<g id="n54"><rect class="nd" x="2245" y="2204" width="174" height="85" fill="#edeceb" stroke="#b2afa8"/><text class="nt f13"><tspan x="2332" y="2224.6">transport</tspan><tspan x="2332" y="2243.3">(*http2Client)</tspan><tspan x="2332" y="2262">newStream</tspan><tspan x="2332" y="2280.7">512.14kB (1.17%)</tspan></text></g>
<g id="n55"><rect class="nd" x="5" y="2358" width="237" height="90" fill="#edeae7" stroke="#b2a188"/><text class="nt f17"><tspan x="123.5" y="2386.4">time</tspan><tspan x="123.5" y="2410.9">AfterFunc</tspan><tspan x="123.5" y="2435.4">2048.16kB (4.67%)</tspan></text></g>
<g id="n56"><rect class="nd" x="271" y="2358" width="250" height="90" fill="#edeae6" stroke="#b29c7e"/><text class="nt f18"><tspan x="396" y="2385.4">fmt</tspan><tspan x="396" y="2411.4">Sprintf</tspan><tspan x="396" y="2437.4">2560.51kB (5.84%)</tspan></text></g>
</g>

<g id="tags">
<g id="t1"><use href="#box3d" xlink:href="#box3d" x="2179.5" y="540"/><text class="nt f8" x="2214" y="570.2">32kB</text></g>
<g id="t2"><use href="#box3d" xlink:href="#box3d" x="2429.5" y="540"/><text class="nt f8" x="2464" y="570.2">4kB</text></g>
<g id="t3"><use href="#box3d" xlink:href="#box3d" x="3048.5" y="540"/><text class="nt f8" x="3083" y="570.2">24B</text></g>
<g id="t4"><use href="#box3d" xlink:href="#box3d" x="1835.5" y="701"/><text class="nt f8" x="1870" y="731.2">48B</text></g>
<g id="t5"><use href="#box3d" xlink:href="#box3d" x="2516.5" y="701"/><text class="nt f8" x="2551" y="731.2">1MB</text></g>
<g id="t6"><use href="#box3d" xlink:href="#box3d" x="2652.5" y="701"/><text class="nt f8" x="2687" y="731.2">128kB</text></g>
<g id="t7"><use href="#box3d" xlink:href="#box3d" x="2858.5" y="860"/><text class="nt f8" x="2893" y="890.2">3.12kB</text></g>
<g id="t8"><use href="#box3d" xlink:href="#box3d" x="1042.5" y="1041"/><text class="nt f8" x="1077" y="1071.2">96B</text></g>
<g id="t9"><use href="#box3d" xlink:href="#box3d" x="1679.5" y="1041"/><text class="nt f8" x="1714" y="1071.2">48B</text></g>
<g id="t10"><use href="#box3d" xlink:href="#box3d" x="1241.5" y="1193"/><text class="nt f8" x="1276" y="1223.2">80B</text></g>
<g id="t11"><use href="#box3d" xlink:href="#box3d" x="1295.5" y="1525"/><text class="nt f8" x="1330" y="1555.2">48B</text></g>
<g id="t12"><use href="#box3d" xlink:href="#box3d" x="1433.5" y="1525"/><text class="nt f8" x="1468" y="1555.2">144B</text></g>
<g id="t13"><use href="#box3d" xlink:href="#box3d" x="308.5" y="1882"/><text class="nt f8" x="343" y="1912.2">80kB</text></g>
<g id="t14"><use href="#box3d" xlink:href="#box3d" x="571.5" y="1882"/><text class="nt f8" x="606" y="1912.2">288B</text></g>
<g id="t15"><use href="#box3d" xlink:href="#box3d" x="837.5" y="1882"/><text class="nt f8" x="872" y="1912.2">288B</text></g>
<g id="t16"><use href="#box3d" xlink:href="#box3d" x="1328.5" y="1882"/><text class="nt f8" x="1363" y="1912.2">1.77MB</text></g>
<g id="t17"><use href="#box3d" xlink:href="#box3d" x="1682.5" y="1882"/><text class="nt f8" x="1717" y="1912.2">912kB</text></g>
<g id="t18"><use href="#box3d" xlink:href="#box3d" x="1055.5" y="2223"/><text class="nt f8" x="1090" y="2253.2">20kB</text></g>
<g id="t19"><use href="#box3d" xlink:href="#box3d" x="1910.5" y="2222"/><text class="nt f8" x="1945" y="2252.2">16B</text></g>
<g id="t20"><use href="#box3d" xlink:href="#box3d" x="2089.5" y="2369"/><text class="nt f8" x="2124" y="2399.2">3.12kB</text></g>
<g id="t21"><use href="#box3d" xlink:href="#box3d" x="2295.5" y="2369"/><text class="nt f8" x="2330" y="2399.2">288B</text></g>
<g id="t22"><use href="#box3d" xlink:href="#box3d" x="87.5" y="2519"/><text class="nt f8" x="122" y="2549.2">80B</text></g>
<g id="t23"><use href="#box3d" xlink:href="#box3d" x="285.5" y="2519"/><text class="nt f8" x="320" y="2549.2">80B</text></g>
<g id="t24"><use href="#box3d" xlink:href="#box3d" x="431.5" y="2519"/><text class="nt f8" x="466" y="2549.2">240B</text></g>
</g>
</svg>
